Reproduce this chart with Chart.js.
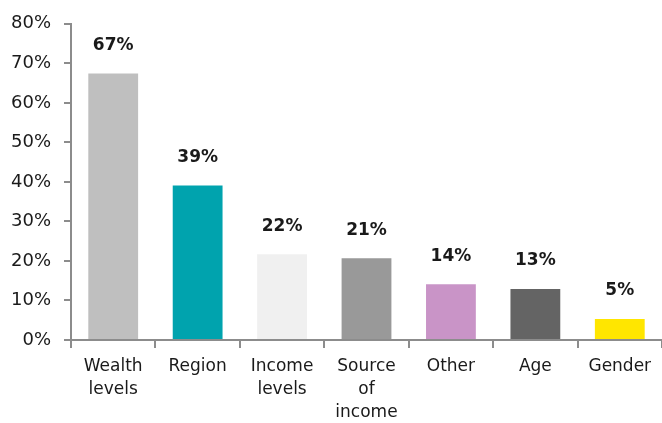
<!DOCTYPE html>
<html lang="en">
<head>
  <meta charset="UTF-8">
  <title>Segmentation criteria</title>
  <script src="https://cdn.jsdelivr.net/npm/chart.js@4.4.1/dist/chart.umd.min.js"></script>
  <style>
    body { margin: 0; background: #fff; }
    #wrap { width: 662px; height: 423px; }
  </style>
</head>
<body>
  <div id="wrap"><canvas id="chart"></canvas></div>
  <script>
    const categories = [['Wealth', 'levels'], 'Region', ['Income', 'levels'], ['Source', 'of', 'income'], 'Other', 'Age', 'Gender'];
    const values = [67.4, 39.1, 21.7, 20.7, 14.1, 12.9, 5.3];
    const valueLabels = ['67%', '39%', '22%', '21%', '14%', '13%', '5%'];
    const barColors = ['#bfbfbf', '#00a3ae', '#f0f0f0', '#999999', '#c994c7', '#646464', '#ffe600'];
    const yTicks = [0, 10, 20, 30, 40, 50, 60, 70, 80];

    const font = 'DejaVu Sans';
    const axisColor = '#8c8c8c';

    // labels above bars
    const valueLabelPlugin = {
      id: 'valueLabels',
      afterDatasetsDraw(chart) {
        const ctx = chart.ctx;
        const meta = chart.getDatasetMeta(0);
        ctx.save();
        ctx.font = 'bold 17px "' + font + '"';
        ctx.fillStyle = '#1a1a1a';
        ctx.textAlign = 'center';
        ctx.textBaseline = 'middle';
        meta.data.forEach((bar, i) => {
          ctx.fillText(valueLabels[i], bar.x, bar.y - 28);
        });
        ctx.restore();
      }
    };

    new Chart(document.getElementById('chart'), {
      type: 'bar',
      data: {
        labels: categories,
        datasets: [{
          data: values,
          backgroundColor: barColors,
          borderWidth: 0,
          categoryPercentage: 1,
          barPercentage: 0.59
        }]
      },
      options: {
        responsive: true,
        maintainAspectRatio: false,
        animation: false,
        layout: { padding: { top: 22, right: -4, left: 0, bottom: 0 } },
        plugins: { legend: { display: false }, tooltip: { enabled: false } },
        scales: {
          x: {
            afterFit: axis => { axis.height = 83; },
            grid: { display: true, drawOnChartArea: false, color: axisColor, lineWidth: 2, tickLength: 8, offset: true },
            border: { color: axisColor, width: 2 },
            ticks: { color: '#1a1a1a', font: { family: font, size: 17, lineHeight: 1.35 }, maxRotation: 0, autoSkip: false, padding: 7 }
          },
          y: {
            min: 0,
            max: 80,
            afterBuildTicks: axis => { axis.ticks = yTicks.map(v => ({ value: v })); },
            afterFit: axis => { axis.width = 71; },
            grid: { display: true, drawOnChartArea: false, color: axisColor, lineWidth: 2, tickLength: 7 },
            border: { color: axisColor, width: 2 },
            ticks: { color: '#1a1a1a', font: { family: font, size: 18 }, padding: 13, callback: v => v + '%' }
          }
        }
      },
      plugins: [valueLabelPlugin]
    });
  </script>
</body>
</html>
